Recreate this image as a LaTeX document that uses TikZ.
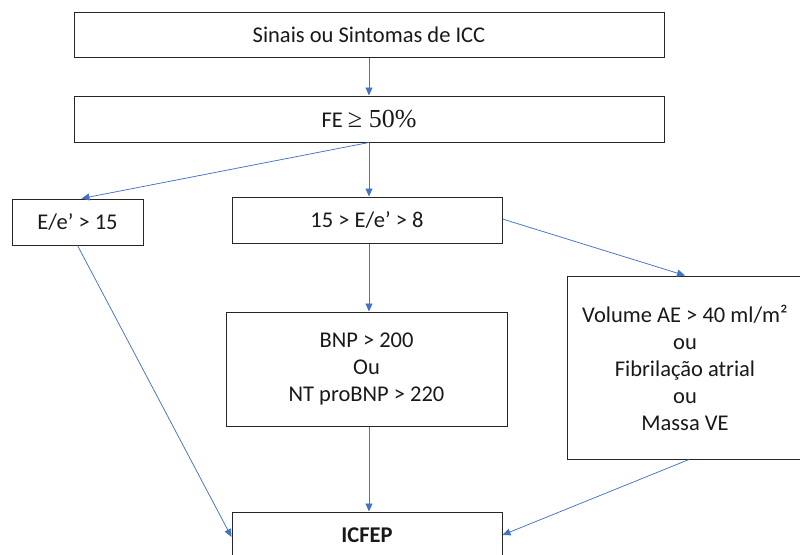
\documentclass[tikz,border=0pt]{standalone}
\usepackage{fontspec}
\setmainfont{Carlito}
\newfontfamily\mathlikefont{Liberation Serif}
\usetikzlibrary{arrows.meta}
\definecolor{arrowblue}{HTML}{4472C4}
\begin{document}
\begin{tikzpicture}[x=1pt,y=-1pt,
  box/.style={draw=black!85,line width=1pt,rectangle,inner sep=0pt,align=center,
    font=\fontsize{22.5}{27}\selectfont,text=black!90},
  conn/.style={draw=arrowblue,line width=0.75pt,-{Triangle[length=8pt,width=7pt]}}]
\useasboundingbox (0,0) rectangle (800,554);
\clip (0,0) rectangle (800,554);
\node[box,minimum width=590pt,minimum height=45pt] (s1) at (369,34.5) {Sinais ou Sintomas de ICC};
\node[box,minimum width=590pt,minimum height=46pt] (s2) at (369,119) {FE {\mathlikefont\fontsize{26}{27}\selectfont ≥ 50\%}};
\node[box,minimum width=131pt,minimum height=46pt] (a) at (77.5,222) {E/e’ > 15};
\node[box,minimum width=270pt,minimum height=46pt] (b) at (367,220) {15 > E/e’ > 8};
\node[box,minimum width=281pt,minimum height=114pt] (c) at (366.5,369) {BNP > 200\\Ou\\NT proBNP > 220};
\node[box,minimum width=236pt,minimum height=183pt] (d) at (685,367.5) {Volume AE > 40 ml/m²\\ou\\Fibrilação atrial\\ou\\Massa VE};
\node[box,minimum width=270pt,minimum height=46pt] (e) at (367,535) {\textbf{ICFEP}};
\draw[conn] (s1.south) -- (s2.north);
\draw[conn] (s2.south) -- ([xshift=4pt]a.north);
\draw[conn] (s2.south) -- (s2.south |- b.north);
\draw[conn] ([yshift=1pt]b.east) -- (d.north);
\draw[conn] (s2.south |- b.south) -- (s2.south |- c.north);
\draw[conn] (s2.south |- c.south) -- (s2.south |- e.north);
\draw[conn] (a.south) -- ([yshift=-2pt]e.west);
\draw[conn] ([xshift=4pt]d.south) -- (e.east);
\end{tikzpicture}
\end{document}
